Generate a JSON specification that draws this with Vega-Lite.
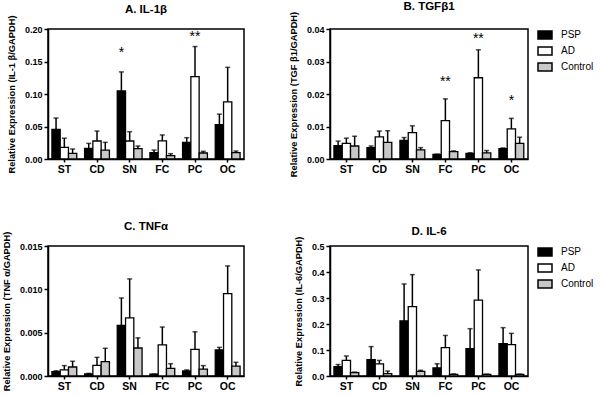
{
  "$schema": "https://vega.github.io/schema/vega-lite/v6.json",
  "padding": {"left": 1, "top": 0, "right": 0, "bottom": 0},
  "background": "white",
  "bounds": "flush",
  "columns": 2,
  "spacing": {"row": 87, "column": 86},
  "config": {
    "font": "Liberation Sans",
    "view": {"stroke": "black", "strokeWidth": 1.5},
    "axis": {"labelFont": "Liberation Sans", "labelFontWeight": "bold", "labelColor": "black", "titleFont": "Liberation Sans", "titleFontWeight": "bold", "titleColor": "black", "titleFontSize": 9.3, "domainColor": "black", "domainWidth": 1.5, "tickColor": "black", "tickWidth": 1.5, "grid": false, "labelOverlap": false},
    "axisY": {"labelFontSize": 9, "tickSize": 4, "labelPadding": 2, "titlePadding": 8, "tickCount": 10},
    "axisX": {"labelFontSize": 10.5, "tickSize": 3, "labelAngle": 0, "labelPadding": 2},
    "title": {"font": "Liberation Sans", "fontSize": 11.5, "fontWeight": "bold", "color": "black", "offset": -1, "frame": "group"},
    "legend": {"labelFont": "Liberation Sans", "labelFontSize": 10, "labelColor": "black", "symbolType": "M-1.4,-0.8H1.4V0.8H-1.4Z", "symbolSize": 100, "symbolStrokeColor": "black", "symbolStrokeWidth": 1.5, "rowPadding": 2, "labelOffset": 10, "offset": 11, "padding": 0}
  },
  "datasets": {
    "bars": [
      {"p": "A", "r": "ST", "g": "PSP", "v": 0.0456, "u": 0.063},
      {"p": "A", "r": "ST", "g": "AD", "v": 0.018, "u": 0.032},
      {"p": "A", "r": "ST", "g": "Control", "v": 0.0087, "u": 0.0154},
      {"p": "A", "r": "CD", "g": "PSP", "v": 0.0164, "u": 0.024},
      {"p": "A", "r": "CD", "g": "AD", "v": 0.0277, "u": 0.043},
      {"p": "A", "r": "CD", "g": "Control", "v": 0.0138, "u": 0.0256},
      {"p": "A", "r": "SN", "g": "PSP", "v": 0.1046, "u": 0.134},
      {"p": "A", "r": "SN", "g": "AD", "v": 0.0277, "u": 0.042},
      {"p": "A", "r": "SN", "g": "Control", "v": 0.0159, "u": 0.020},
      {"p": "A", "r": "FC", "g": "PSP", "v": 0.0097, "u": 0.0138},
      {"p": "A", "r": "FC", "g": "AD", "v": 0.028, "u": 0.037},
      {"p": "A", "r": "FC", "g": "Control", "v": 0.0051, "u": 0.0082},
      {"p": "A", "r": "PC", "g": "PSP", "v": 0.0256, "u": 0.0328},
      {"p": "A", "r": "PC", "g": "AD", "v": 0.1267, "u": 0.173},
      {"p": "A", "r": "PC", "g": "Control", "v": 0.0092, "u": 0.0118},
      {"p": "A", "r": "OC", "g": "PSP", "v": 0.0528, "u": 0.069},
      {"p": "A", "r": "OC", "g": "AD", "v": 0.088, "u": 0.141},
      {"p": "A", "r": "OC", "g": "Control", "v": 0.0097, "u": 0.0123},
      {"p": "B", "r": "ST", "g": "PSP", "v": 0.0041, "u": 0.0055},
      {"p": "B", "r": "ST", "g": "AD", "v": 0.0048, "u": 0.0064},
      {"p": "B", "r": "ST", "g": "Control", "v": 0.0040, "u": 0.0070},
      {"p": "B", "r": "CD", "g": "PSP", "v": 0.0035, "u": 0.0040},
      {"p": "B", "r": "CD", "g": "AD", "v": 0.0068, "u": 0.0086},
      {"p": "B", "r": "CD", "g": "Control", "v": 0.0051, "u": 0.0087},
      {"p": "B", "r": "SN", "g": "PSP", "v": 0.0057, "u": 0.0066},
      {"p": "B", "r": "SN", "g": "AD", "v": 0.0081, "u": 0.0102},
      {"p": "B", "r": "SN", "g": "Control", "v": 0.0028, "u": 0.0035},
      {"p": "B", "r": "FC", "g": "PSP", "v": 0.0014, "u": 0.0015},
      {"p": "B", "r": "FC", "g": "AD", "v": 0.0118, "u": 0.0185},
      {"p": "B", "r": "FC", "g": "Control", "v": 0.0023, "u": 0.0025},
      {"p": "B", "r": "PC", "g": "PSP", "v": 0.0017, "u": 0.0019},
      {"p": "B", "r": "PC", "g": "AD", "v": 0.0250, "u": 0.0336},
      {"p": "B", "r": "PC", "g": "Control", "v": 0.0019, "u": 0.0026},
      {"p": "B", "r": "OC", "g": "PSP", "v": 0.0032, "u": 0.0034},
      {"p": "B", "r": "OC", "g": "AD", "v": 0.0093, "u": 0.0125},
      {"p": "B", "r": "OC", "g": "Control", "v": 0.0048, "u": 0.0067},
      {"p": "C", "r": "ST", "g": "PSP", "v": 0.0005, "u": 0.0006},
      {"p": "C", "r": "ST", "g": "AD", "v": 0.0007, "u": 0.0012},
      {"p": "C", "r": "ST", "g": "Control", "v": 0.00104, "u": 0.0017},
      {"p": "C", "r": "CD", "g": "PSP", "v": 0.00023, "u": 0.0003},
      {"p": "C", "r": "CD", "g": "AD", "v": 0.00123, "u": 0.00215},
      {"p": "C", "r": "CD", "g": "Control", "v": 0.00165, "u": 0.0032},
      {"p": "C", "r": "SN", "g": "PSP", "v": 0.00585, "u": 0.0090},
      {"p": "C", "r": "SN", "g": "AD", "v": 0.0067, "u": 0.0112},
      {"p": "C", "r": "SN", "g": "Control", "v": 0.00323, "u": 0.0044},
      {"p": "C", "r": "FC", "g": "PSP", "v": 0.0002, "u": 0.00022},
      {"p": "C", "r": "FC", "g": "AD", "v": 0.00358, "u": 0.00565},
      {"p": "C", "r": "FC", "g": "Control", "v": 0.00088, "u": 0.00142},
      {"p": "C", "r": "PC", "g": "PSP", "v": 0.00058, "u": 0.0007},
      {"p": "C", "r": "PC", "g": "AD", "v": 0.00308, "u": 0.0051},
      {"p": "C", "r": "PC", "g": "Control", "v": 0.0008, "u": 0.0012},
      {"p": "C", "r": "OC", "g": "PSP", "v": 0.0030, "u": 0.0033},
      {"p": "C", "r": "OC", "g": "AD", "v": 0.0095, "u": 0.0127},
      {"p": "C", "r": "OC", "g": "Control", "v": 0.00115, "u": 0.00158},
      {"p": "D", "r": "ST", "g": "PSP", "v": 0.036, "u": 0.044},
      {"p": "D", "r": "ST", "g": "AD", "v": 0.060, "u": 0.077},
      {"p": "D", "r": "ST", "g": "Control", "v": 0.013, "u": 0.015},
      {"p": "D", "r": "CD", "g": "PSP", "v": 0.063, "u": 0.113},
      {"p": "D", "r": "CD", "g": "AD", "v": 0.047, "u": 0.060},
      {"p": "D", "r": "CD", "g": "Control", "v": 0.009, "u": 0.019},
      {"p": "D", "r": "SN", "g": "PSP", "v": 0.212, "u": 0.354},
      {"p": "D", "r": "SN", "g": "AD", "v": 0.267, "u": 0.390},
      {"p": "D", "r": "SN", "g": "Control", "v": 0.018, "u": 0.022},
      {"p": "D", "r": "FC", "g": "PSP", "v": 0.031, "u": 0.047},
      {"p": "D", "r": "FC", "g": "AD", "v": 0.109, "u": 0.156},
      {"p": "D", "r": "FC", "g": "Control", "v": 0.0064, "u": 0.008},
      {"p": "D", "r": "PC", "g": "PSP", "v": 0.105, "u": 0.182},
      {"p": "D", "r": "PC", "g": "AD", "v": 0.292, "u": 0.408},
      {"p": "D", "r": "PC", "g": "Control", "v": 0.006, "u": 0.007},
      {"p": "D", "r": "OC", "g": "PSP", "v": 0.124, "u": 0.186},
      {"p": "D", "r": "OC", "g": "AD", "v": 0.121, "u": 0.164},
      {"p": "D", "r": "OC", "g": "Control", "v": 0.006, "u": 0.007}
    ],
    "stars": [
      {"p": "A", "r": "SN", "g": "PSP", "s": 0.163, "t": "*"},
      {"p": "A", "r": "PC", "g": "AD", "s": 0.188, "t": "**"},
      {"p": "B", "r": "FC", "g": "AD", "s": 0.0236, "t": "**"},
      {"p": "B", "r": "PC", "g": "AD", "s": 0.0369, "t": "**"},
      {"p": "B", "r": "OC", "g": "AD", "s": 0.0179, "t": "*"}
    ]
  },
  "resolve": {"scale": {"fill": "independent"}, "legend": {"fill": "independent"}},
  "concat": [
    {
      "title": "A.  IL-1β",
      "width": 196, "height": 130,
      "data": {"name": "bars"},
      "transform": [{"filter": "datum.p === 'A'"}],
      "encoding": {
        "x": {"field": "r", "type": "nominal", "sort": ["ST", "CD", "SN", "FC", "PC", "OC"], "scale": {"paddingInner": 0.24, "paddingOuter": 0.12}, "title": null},
        "xOffset": {"field": "g", "type": "nominal", "sort": ["PSP", "AD", "Control"], "scale": {"paddingInner": 0, "paddingOuter": 0}}
      },
      "layer": [
        {"mark": {"type": "bar", "stroke": "black", "strokeWidth": 1.3},
         "encoding": {"y": {"field": "v", "type": "quantitative", "title": "Relative Expression (IL-1 β/GAPDH)", "scale": {"domain": [0, 0.2], "nice": false}, "axis": {"values": [0, 0.05, 0.1, 0.15, 0.2], "format": ".2f", "tickCount": 10, "labelOverlap": false}},
                      "fill": {"field": "g", "type": "nominal", "sort": ["PSP", "AD", "Control"], "scale": {"domain": ["PSP", "AD", "Control"], "range": ["black", "white", "#c8c8c8"]}, "legend": null}}},
        {"mark": {"type": "rule", "color": "black", "strokeWidth": 1.5},
         "encoding": {"y": {"field": "v", "type": "quantitative", "title": "Relative Expression (IL-1 β/GAPDH)"}, "y2": {"field": "u"}}},
        {"mark": {"type": "tick", "color": "black", "size": 5, "thickness": 1.5},
         "encoding": {"y": {"field": "u", "type": "quantitative", "title": "Relative Expression (IL-1 β/GAPDH)"}}},
        {"data": {"name": "stars"}, "transform": [{"filter": "datum.p === 'A'"}],
         "mark": {"type": "text", "fontSize": 14, "baseline": "middle", "color": "black"},
         "encoding": {"y": {"field": "s", "type": "quantitative", "title": "Relative Expression (IL-1 β/GAPDH)"}, "text": {"field": "t"}}}
      ]
    },
    {
      "title": "B.  TGFβ1",
      "width": 198, "height": 130,
      "data": {"name": "bars"},
      "transform": [{"filter": "datum.p === 'B'"}],
      "encoding": {
        "x": {"field": "r", "type": "nominal", "sort": ["ST", "CD", "SN", "FC", "PC", "OC"], "scale": {"paddingInner": 0.24, "paddingOuter": 0.12}, "title": null},
        "xOffset": {"field": "g", "type": "nominal", "sort": ["PSP", "AD", "Control"], "scale": {"paddingInner": 0, "paddingOuter": 0}}
      },
      "layer": [
        {"mark": {"type": "bar", "stroke": "black", "strokeWidth": 1.3},
         "encoding": {"y": {"field": "v", "type": "quantitative", "title": "Relative Expression (TGF β1/GAPDH)", "scale": {"domain": [0, 0.04], "nice": false}, "axis": {"values": [0, 0.01, 0.02, 0.03, 0.04], "format": ".2f", "tickCount": 10, "labelOverlap": false}},
                      "fill": {"field": "g", "type": "nominal", "sort": ["PSP", "AD", "Control"], "scale": {"domain": ["PSP", "AD", "Control"], "range": ["black", "white", "#c8c8c8"]}, "legend": {"title": null}}}},
        {"mark": {"type": "rule", "color": "black", "strokeWidth": 1.5},
         "encoding": {"y": {"field": "v", "type": "quantitative", "title": "Relative Expression (TGF β1/GAPDH)"}, "y2": {"field": "u"}}},
        {"mark": {"type": "tick", "color": "black", "size": 5, "thickness": 1.5},
         "encoding": {"y": {"field": "u", "type": "quantitative", "title": "Relative Expression (TGF β1/GAPDH)"}}},
        {"data": {"name": "stars"}, "transform": [{"filter": "datum.p === 'B'"}],
         "mark": {"type": "text", "fontSize": 14, "baseline": "middle", "color": "black"},
         "encoding": {"y": {"field": "s", "type": "quantitative", "title": "Relative Expression (TGF β1/GAPDH)"}, "text": {"field": "t"}}}
      ]
    },
    {
      "title": "C.  TNFα",
      "width": 196, "height": 130,
      "data": {"name": "bars"},
      "transform": [{"filter": "datum.p === 'C'"}],
      "encoding": {
        "x": {"field": "r", "type": "nominal", "sort": ["ST", "CD", "SN", "FC", "PC", "OC"], "scale": {"paddingInner": 0.24, "paddingOuter": 0.12}, "title": null},
        "xOffset": {"field": "g", "type": "nominal", "sort": ["PSP", "AD", "Control"], "scale": {"paddingInner": 0, "paddingOuter": 0}}
      },
      "layer": [
        {"mark": {"type": "bar", "stroke": "black", "strokeWidth": 1.3},
         "encoding": {"y": {"field": "v", "type": "quantitative", "title": "Relative Expression (TNF α/GAPDH)", "scale": {"domain": [0, 0.015], "nice": false}, "axis": {"values": [0, 0.005, 0.01, 0.015], "format": ".3f", "tickCount": 10, "labelOverlap": false}},
                      "fill": {"field": "g", "type": "nominal", "sort": ["PSP", "AD", "Control"], "scale": {"domain": ["PSP", "AD", "Control"], "range": ["black", "white", "#c8c8c8"]}, "legend": null}}},
        {"mark": {"type": "rule", "color": "black", "strokeWidth": 1.5},
         "encoding": {"y": {"field": "v", "type": "quantitative", "title": "Relative Expression (TNF α/GAPDH)"}, "y2": {"field": "u"}}},
        {"mark": {"type": "tick", "color": "black", "size": 5, "thickness": 1.5},
         "encoding": {"y": {"field": "u", "type": "quantitative", "title": "Relative Expression (TNF α/GAPDH)"}}}
      ]
    },
    {
      "title": "D.  IL-6",
      "width": 198, "height": 130,
      "data": {"name": "bars"},
      "transform": [{"filter": "datum.p === 'D'"}],
      "encoding": {
        "x": {"field": "r", "type": "nominal", "sort": ["ST", "CD", "SN", "FC", "PC", "OC"], "scale": {"paddingInner": 0.24, "paddingOuter": 0.12}, "title": null},
        "xOffset": {"field": "g", "type": "nominal", "sort": ["PSP", "AD", "Control"], "scale": {"paddingInner": 0, "paddingOuter": 0}}
      },
      "layer": [
        {"mark": {"type": "bar", "stroke": "black", "strokeWidth": 1.3},
         "encoding": {"y": {"field": "v", "type": "quantitative", "title": "Relative Expression (IL-6/GAPDH)", "scale": {"domain": [0, 0.5], "nice": false}, "axis": {"values": [0, 0.1, 0.2, 0.3, 0.4, 0.5], "format": ".1f", "tickCount": 10, "labelOverlap": false}},
                      "fill": {"field": "g", "type": "nominal", "sort": ["PSP", "AD", "Control"], "scale": {"domain": ["PSP", "AD", "Control"], "range": ["black", "white", "#c8c8c8"]}, "legend": {"title": null}}}},
        {"mark": {"type": "rule", "color": "black", "strokeWidth": 1.5},
         "encoding": {"y": {"field": "v", "type": "quantitative", "title": "Relative Expression (IL-6/GAPDH)"}, "y2": {"field": "u"}}},
        {"mark": {"type": "tick", "color": "black", "size": 5, "thickness": 1.5},
         "encoding": {"y": {"field": "u", "type": "quantitative", "title": "Relative Expression (IL-6/GAPDH)"}}}
      ]
    }
  ]
}
